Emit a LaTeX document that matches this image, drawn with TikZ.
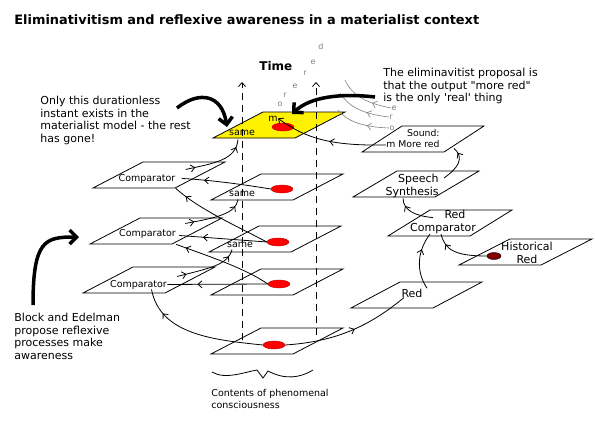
\documentclass[tikz,border=0pt]{standalone}
\usepackage{fontspec}
\setmainfont{DejaVu Sans}
\usetikzlibrary{arrows.meta, shapes.geometric, decorations.markings}
\tikzset{%
    plane/.style={color=black},
    dot/.style={ellipse, fill=red, draw=red!75!black, line width=0.4pt, minimum width=22pt, minimum height=8pt, inner sep=0pt},
    olddot/.style={ellipse, fill=red!50!black, draw=black, line width=0.4pt, minimum width=14pt, minimum height=7pt, inner sep=0pt},
    link/.style={postaction={decorate, decoration={markings, mark=at position #1 with {\arrow{>}}}}},
    tag/.style={inner sep=0pt, anchor=base, font=\fontsize{9.5}{11}\selectfont},
    bigtag/.style={inner sep=0pt, font=\fontsize{11}{13}\selectfont},
    note/.style={inner sep=0pt, anchor=north west, align=left, font=\fontsize{11}{12.8}\selectfont},
    ghost/.style={color=gray, line width=0.6pt},
    ghosttext/.style={inner sep=0pt, color=gray, font=\fontsize{8}{9}\selectfont},
    bigarrow/.style={line width=3.5pt, -{Straight Barb[length=7pt,width=14pt]}},
    axis/.style={dash pattern=on 7pt off 5pt, ->},
}
% one flat sheet: bottom left corner, skew
\newcommand{\plane}[3][]{\draw[plane,#1] (#2) -- ++(82,0) -- ++(#3,-26) -- ++(-82,0) -- cycle;}

\begin{document}
\begin{tikzpicture}[x=1pt, y=-1pt, line width=0.8pt, >={Straight Barb[length=4pt,width=7pt]}]

	\fill[white] (0,0) rectangle (595,434);
	\useasboundingbox (0,0) rectangle (595,434);

	% title
	\node[anchor=base west, inner sep=0pt, font=\bfseries\fontsize{12.9}{14}\selectfont] (title) at (14,24) {Eliminativitism and reflexive awareness in a materialist context};
	\node[anchor=base west, inner sep=0pt, font=\bfseries\fontsize{12}{14}\selectfont] (time) at (259,70) {Time};

	% the present instant
	\plane[fill=yellow]{213,138}{50}

	% time axes
	\coordinate (abot) at (242,340);
	\coordinate (atop) at (242,82);
	\coordinate (bbot) at (316,335);
	\coordinate (btop) at (316,82);
	\draw[axis] (abot) -- (atop);
	\draw[axis] (bbot) -- (btop);

	% past sheets
	\plane{211,200}{50}
	\plane{209,252}{50}
	\plane{211,295}{50}
	\plane{211,354}{50}

	% comparators
	\plane{93,188}{50}
	\plane{90,244}{50}
	\plane{83,293}{50}

	% speech side
	\plane{362,152}{40}
	\plane{353,197}{44}
	\plane{388,236}{42}
	\plane{459,265}{51}
	\plane{351,308}{49}

	% dots
	\node[dot] (e1) at (283,127) {};
	\node[dot] (e2) at (282,189) {};
	\node[dot] (e3) at (278,242) {};
	\node[dot] (e4) at (279,284) {};
	\node[dot] (e5) at (274,345) {};
	\node[olddot] (eh) at (494,256) {};

	% sheet texts
	\node[tag] (same1) at (242,135) {same};
	\node[tag] (same2) at (242,196) {same};
	\node[tag] (same3) at (240,247) {same};
	\node[tag] (m) at (273,121) {m};
	\node[tag] (cmpA) at (147,181) {Comparator};
	\node[tag] (cmpB) at (147.5,236) {Comparator};
	\node[tag] (cmpC) at (138.5,287) {Comparator};
	\node[tag, anchor=north east, align=right, font=\fontsize{9.3}{11}\selectfont] (sound) at (440,129.5) {Sound:\\m More red};
	\node[bigtag, anchor=north east, align=right] (speech) at (439,174) {Speech\\Synthesis};
	\node[bigtag, anchor=north, align=center] (redcmp) at (443,209.6) {\hspace*{24pt}Red\\Comparator};
	\node[bigtag, anchor=north, align=center] (hist) at (527,241.6) {Historical\\Red};
	\node[bigtag, anchor=base] (red) at (412,297) {Red};

	% reflexive loops
	\draw[link=0.8] (e5.west) .. controls (215,340) and (160,335) .. ([xshift=13pt]cmpC.south);
	\draw[link=0.55] (e5.east) .. controls (330,342) and (365,330) .. ([xshift=-8pt]red.south);
	\draw[link=0.7] (e4.west) -- (cmpC.east);
	\draw[link=0.9] (e4.west) .. controls (245,268) and (205,255) .. ([yshift=-6pt]cmpB.south east);
	\draw[link=0.73] (e3.west) -- ([xshift=3pt,yshift=-2pt]cmpB.east);
	\draw[link=0.88] (e3.west) .. controls (235,225) and (200,210) .. ([yshift=-5pt]cmpA.south east);
	\draw[link=0.75] (e2.west) .. controls (240,184) and (210,180) .. ([xshift=6pt]cmpA.east);
	\draw[link=0.15, link=0.88] ([xshift=10pt,yshift=9pt]cmpA.east) .. controls (215,163) and (236,160) .. ([xshift=-4pt,yshift=-4pt]same1.south);
	\draw[link=0.15, link=0.88] ([xshift=9pt,yshift=10pt]cmpB.east) .. controls (215,218) and (236,214) .. ([xshift=-4pt,yshift=-3pt]same2.south);
	\draw[link=0.15, link=0.88] ([xshift=10pt,yshift=8pt]cmpC.east) .. controls (210,268) and (228,265) .. ([xshift=-8pt,yshift=-2pt]same3.south);

	% red to speech
	\draw[link=0.7] ([xshift=15pt]red.north) .. controls (415,270) and (418,250) .. ([xshift=-13pt]redcmp.south);
	\draw[link=0.8] (eh.west) .. controls (455,256) and (445,250) .. ([xshift=-2pt]redcmp.south);
	\draw[link=0.8] ([xshift=-10pt,yshift=-8pt]redcmp.north) .. controls (415,216) and (403,210) .. ([xshift=-9pt]speech.south);
	\draw[link=0.85] ([xshift=5pt,yshift=-4pt]speech.north east) .. controls (458,168) and (465,158) .. ([xshift=14pt]sound.south east);
	\draw[link=0.5, ->] ([yshift=-6pt]sound.west) .. controls (330,146) and (305,138) .. (m.east);

	% more red, heard
	\foreach \ch/\x/\y [count=\i] in {o/280/104, r/285/95, e/295/86, r/305/73, e/313/62, d/321/47}
		\node[ghosttext] (mr\i) at (\x,\y) {\ch};
	\node[ghosttext] (ge) at (394,108) {e};
	\node[ghosttext] (gr) at (391,117) {r};
	\node[ghosttext] (go) at (392,128) {o};
	\coordinate (g1) at (345,80);
	\coordinate (g2) at (340,93);
	\coordinate (g3) at (338,110);
	\draw[ghost, link=0.35] (ge.west) .. controls (365,103) and (352,95) .. (g1);
	\draw[ghost, link=0.4] (gr.west) .. controls (362,114) and (348,106) .. (g2);
	\draw[ghost, link=0.4] (go.west) .. controls (360,127) and (346,120) .. (g3);

	% notes
	\node[note] (only) at (40,95.6) {Only this durationless\\instant exists in the\\materialist model - the rest\\has gone!};
	\node[note] (elim) at (383,67.6) {The eliminavitist proposal is\\that the output \textquotedbl more red\textquotedbl\\is the only \textquotesingle real\textquotesingle{} thing};
	\node[note] (block) at (14,312.6) {Block and Edelman\\propose reflexive\\processes make\\awareness};
	\node[note, font=\fontsize{9.5}{12}\selectfont] (contents) at (211,388.8) {Contents of phenomenal\\consciousness};

	% big arrows
	\coordinate (t1) at (177,108);
	\coordinate (h1) at (227,127);
	\coordinate (t2) at (375,97);
	\coordinate (h2) at (292,114);
	\coordinate (t3) at (33,305);
	\coordinate (h3) at (79,237);
	\draw[bigarrow] (t1) .. controls (200,90) and (222,95) .. (h1);
	\draw[bigarrow] (t2) .. controls (340,93) and (310,97) .. (h2);
	\draw[bigarrow] (t3) .. controls (33,240) and (45,237) .. (h3);

	% brace
	\draw (212,372) .. controls (225,380) and (245,372) .. (257,370) -- (263,378) -- (268,371) .. controls (285,380) and (300,378) .. (313,370);

\end{tikzpicture}
\end{document}
